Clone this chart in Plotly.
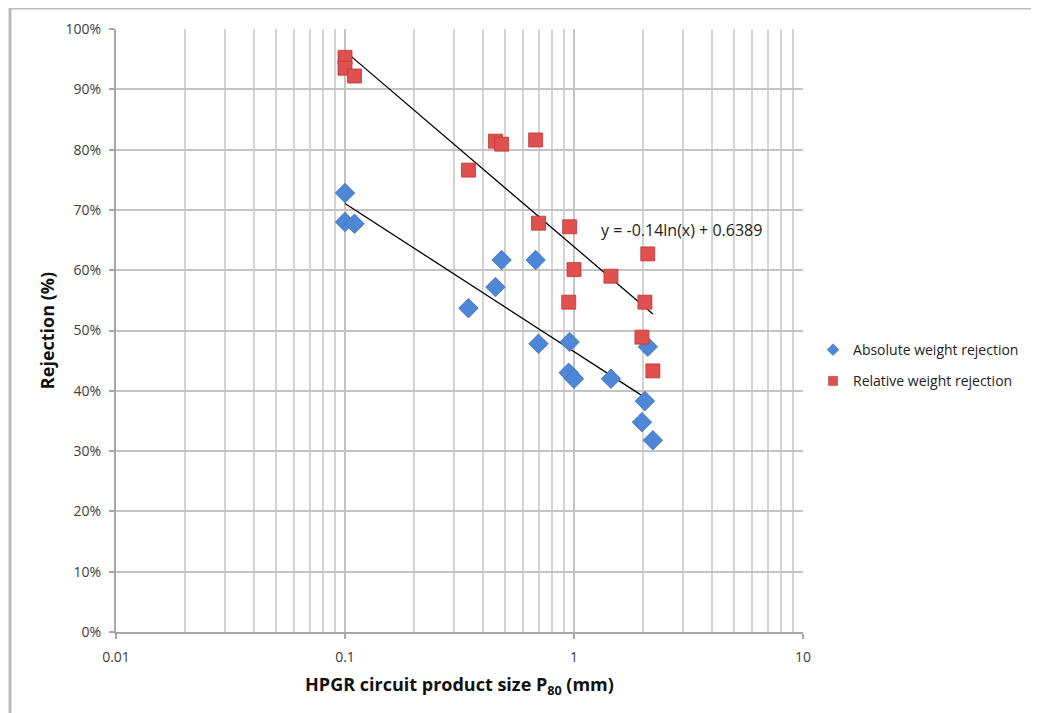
import numpy as np
import plotly.graph_objects as go

# Data
p80_mm = [0.10, 0.10, 0.11, 0.346, 0.454, 0.483, 0.68, 0.70, 0.957, 0.948, 1.00, 1.45, 2.10, 2.04, 1.98, 2.21]
absolute_rej = [0.728, 0.680, 0.677, 0.537, 0.572, 0.617, 0.617, 0.478, 0.481, 0.430, 0.420, 0.420, 0.473, 0.383, 0.348, 0.318]
relative_rej = [0.953, 0.935, 0.922, 0.766, 0.814, 0.809, 0.816, 0.678, 0.672, 0.547, 0.601, 0.590, 0.627, 0.547, 0.489, 0.433]
y_ticks = [0, 0.1, 0.2, 0.3, 0.4, 0.5, 0.6, 0.7, 0.8, 0.9, 1.0]
x_ticks = [0.01, 0.1, 1, 10]
x_tick_text = ["0.01", "0.1", "1", "10"]
equation_text = "y = -0.14ln(x) + 0.6389"

BLUE, BLUE_EDGE = "#4F87D8", "#3F6FB5"
RED, RED_EDGE = "#E0504E", "#B73A38"

x = np.array(p80_mm)
def log_fit(yvals):
    a, b = np.polyfit(np.log(x), np.array(yvals), 1)
    xs = np.geomspace(x.min(), x.max(), 50)
    return xs, a * np.log(xs) + b

fig = go.Figure()

xa, ya = log_fit(absolute_rej)
xr, yr = log_fit(relative_rej)

fig.add_trace(go.Scatter(x=xa, y=ya, mode="lines", line=dict(color="black", width=1.3),
                         showlegend=False, hoverinfo="skip"))
fig.add_trace(go.Scatter(x=xr, y=yr, mode="lines", line=dict(color="black", width=1.3),
                         showlegend=False, hoverinfo="skip"))

fig.add_trace(go.Scatter(
    x=p80_mm, y=absolute_rej, mode="markers", name="Absolute weight rejection",
    showlegend=False,
    marker=dict(symbol="diamond", size=15, color=BLUE, line=dict(color=BLUE_EDGE, width=0.8))))
fig.add_trace(go.Scatter(
    x=p80_mm, y=relative_rej, mode="markers", name="Relative weight rejection",
    showlegend=False,
    marker=dict(symbol="square", size=14, color=RED, line=dict(color=RED_EDGE, width=0.8))))

# legend entries with the small symbols of the reference
fig.add_trace(go.Scatter(x=[None], y=[None], mode="markers", name="Absolute weight rejection",
                         legendgroup="a",
                         marker=dict(symbol="diamond", size=9, color=BLUE, line=dict(color=BLUE_EDGE, width=0.6))))
fig.add_trace(go.Scatter(x=[None], y=[None], mode="markers", name="Relative weight rejection",
                         legendgroup="r",
                         marker=dict(symbol="square", size=9, color=RED, line=dict(color=RED_EDGE, width=0.6))))

font_fam = "Open Sans, Lato, sans-serif"

fig.add_annotation(x=np.log10(1.28), y=0.667, xref="x", yref="y", text=equation_text,
                   showarrow=False, xanchor="left", yanchor="middle",
                   font=dict(family=font_fam, size=16, color="#222"))

grid_c = "#d4d4d4"
axis_c = "#a8a8a8"

# page body has an 8px margin: place plot area accordingly
OFF = 8
ML, MT = 116 - OFF, 29 - OFF
PW, PH = 687, 603
W, H = 1039 - OFF, 713 - OFF

fig.update_layout(
    width=W, height=H,
    margin=dict(l=ML, r=W - ML - PW, t=MT, b=H - MT - PH, autoexpand=False),
    paper_bgcolor="white", plot_bgcolor="white",
    font=dict(family=font_fam, size=14, color="#333"),
    legend=dict(x=1.0146, y=0.494, xanchor="left", yanchor="top", tracegroupgap=10,
                font=dict(size=14, color="#222"), bgcolor="rgba(0,0,0,0)"),
    xaxis=dict(type="log", range=[-2, 1], tickvals=x_ticks, ticktext=x_tick_text,
               showgrid=True, gridcolor="#c4c4c4", gridwidth=1.5,
               minor=dict(dtick="D1", showgrid=True, gridcolor=grid_c, gridwidth=1.5, ticks=""),
               showline=True, linecolor=axis_c, linewidth=2,
               ticks="outside", ticklen=5, tickcolor=axis_c, tickwidth=2,
               ticklabelstandoff=6,
               zeroline=False, tickfont=dict(size=14, color="#404040"),
               title=dict(text="<b>HPGR circuit product size P<sub>80</sub> (mm)</b>",
                          font=dict(size=18, color="#111"), standoff=14)),
    yaxis=dict(range=[0, 1], tickvals=y_ticks, tickformat=".0%",
               showgrid=True, gridcolor="#c4c4c4", gridwidth=1.5,
               showline=True, linecolor=axis_c, linewidth=2,
               ticks="outside", ticklen=5, tickcolor=axis_c, tickwidth=2,
               ticklabelstandoff=5,
               zeroline=False, tickfont=dict(size=14, color="#404040"),
               title=dict(text="<b>Rejection (%)</b>", font=dict(size=18, color="#111"),
                          standoff=6)),
)

# outer frame (top and left edges visible)
def px(xp):
    return (xp - OFF - ML) / PW
def py(yp):
    return (MT + PH - (yp - OFF)) / PH
fig.add_shape(type="line", xref="paper", yref="paper",
              x0=px(10), x1=px(1039 + OFF), y0=py(8), y1=py(8),
              line=dict(color="#bdbdbd", width=3))
fig.add_shape(type="line", xref="paper", yref="paper",
              x0=px(10), x1=px(10), y0=py(8), y1=py(713 + OFF),
              line=dict(color="#bdbdbd", width=3))

fig.write_html("out.html")
